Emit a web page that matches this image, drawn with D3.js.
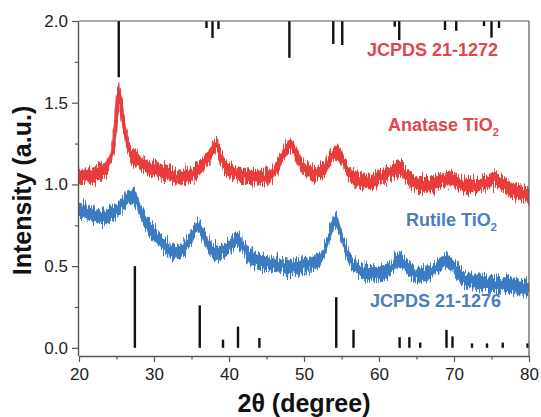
<!DOCTYPE html>
<html><head><meta charset="utf-8">
<script src="https://cdn.jsdelivr.net/npm/d3@7/dist/d3.min.js"></script>
<style>
html,body{margin:0;padding:0;background:#fff;}
svg{display:block;font-family:"Liberation Sans",Arial,sans-serif;}
</style></head>
<body><svg id="chart" width="541" height="417"></svg>
<script>
// ---- data ----
const anataseX = [20,21,22,23,23.5,24,24.5,25,25.3,25.7,26.2,27,28,29,30,32,34,35.5,36.5,37.5,38.0,38.3,38.8,39.5,41,43,45,46,47,47.8,48.1,48.8,49.5,50.5,51.5,52.5,53.5,54.2,55,56,57,58.5,60,61.5,62.7,64,65.5,67,68.5,69.5,70.5,72,73.5,75.5,77,78.5,80];
const anataseY = [1.045,1.05,1.06,1.08,1.09,1.13,1.21,1.42,1.58,1.45,1.31,1.18,1.14,1.11,1.09,1.06,1.045,1.07,1.12,1.18,1.22,1.24,1.18,1.11,1.07,1.045,1.045,1.075,1.16,1.23,1.24,1.20,1.13,1.09,1.06,1.09,1.15,1.2,1.16,1.07,1.03,1.015,1.04,1.07,1.10,1.04,1.0,1.0,1.03,1.04,1.015,0.985,1.0,1.03,0.985,0.955,0.935];
const rutileX = [20,21.5,23,24.5,25.5,26.5,27.2,28,29,30,31.5,33,34,35,35.8,36.5,37.5,38.5,39.5,40.5,41.2,42,43,44.5,46,48,50,52,53,53.7,54.2,55,56,57,58.5,60,61.5,62.7,63.5,65,66.5,68,69,70,71.5,73,75,77,78.5,80];
const rutileY = [0.843,0.825,0.80,0.825,0.86,0.92,0.93,0.86,0.76,0.70,0.62,0.585,0.61,0.68,0.74,0.70,0.61,0.58,0.60,0.64,0.66,0.61,0.55,0.52,0.51,0.495,0.505,0.54,0.63,0.74,0.78,0.68,0.555,0.49,0.455,0.455,0.49,0.54,0.51,0.445,0.455,0.51,0.53,0.49,0.415,0.405,0.395,0.385,0.375,0.37];
const noiseHalfWidth = 0.045;
// JCPDS 21-1272 (anatase) sticks hanging from the top: position, drop length
const anataseRefPos = [25.3,37.0,37.8,38.6,48.05,53.9,55.1,62.1,62.7,68.8,70.3,74.0,75.0,76.0];
const anataseRefLen = [0.344,0.043,0.104,0.049,0.225,0.141,0.147,0.035,0.117,0.055,0.06,0.031,0.102,0.043];
// JCPDS 21-1276 (rutile) sticks from zero
const rutileRefPos = [27.45,36.1,39.2,41.2,44.05,54.3,56.6,62.75,64.05,65.5,69.0,69.8,72.4,74.4,76.5,79.8];
const rutileRefVal = [0.5,0.26,0.05,0.13,0.06,0.31,0.11,0.065,0.065,0.02,0.11,0.07,0.015,0.015,0.02,0.015];
const xTicks = [20,30,40,50,60,70,80];
const xMinor = [25,35,45,55,65,75];
const yTicks = [0.0,0.5,1.0,1.5,2.0];
const yMinor = [0.25,0.75,1.25,1.75];

// ---- drawing ----
const svg = d3.select('#chart');
const L = 79, R = 529, T = 21, B = 356;
const x = d3.scaleLinear().domain([20,80]).range([L,R]);
const y = d3.scaleLinear().domain([-0.05,2.0]).range([B,T]);

const defs = svg.append('defs');
const f = defs.append('filter').attr('id','noise').attr('x','-2%').attr('y','-30%').attr('width','104%').attr('height','160%');
f.append('feTurbulence').attr('type','fractalNoise').attr('baseFrequency','1.1 0.07').attr('numOctaves',2).attr('seed',7).attr('result','t');
const ct = f.append('feComponentTransfer').attr('in','t').attr('result','t2');
ct.append('feFuncR').attr('type','linear').attr('slope',0).attr('intercept',0.5);
f.append('feDisplacementMap').attr('in','SourceGraphic').attr('in2','t2').attr('scale',18).attr('xChannelSelector','R').attr('yChannelSelector','G');

function band(xs, ys, color){
  const pts = xs.map((d,i)=>[d, ys[i]]);
  const area = d3.area().x(d=>x(d[0])).y0(d=>y(d[1]-noiseHalfWidth)).y1(d=>y(d[1]+noiseHalfWidth)).curve(d3.curveMonotoneX);
  svg.append('path').attr('d', area(pts)).attr('fill', color).attr('filter','url(#noise)');
  const line = d3.line().x(d=>x(d[0])).y(d=>y(d[1])).curve(d3.curveMonotoneX);
  svg.append('path').attr('d', line(pts)).attr('fill','none').attr('stroke',color).attr('stroke-width',4).attr('filter','url(#noise)');
}
band(anataseX, anataseY, '#e83c3a');
band(rutileX, rutileY, '#3b7bc3');

// reference sticks
svg.append('g').selectAll('line').data(anataseRefPos).join('line')
  .attr('x1',d=>x(d)).attr('x2',d=>x(d)).attr('y1',y(2.0)).attr('y2',(d,i)=>y(2.0-anataseRefLen[i]))
  .attr('stroke','#111').attr('stroke-width',2.4);
svg.append('g').selectAll('line').data(rutileRefPos).join('line')
  .attr('x1',d=>x(d)).attr('x2',d=>x(d)).attr('y1',y(0)).attr('y2',(d,i)=>y(rutileRefVal[i]) - (rutileRefVal[i] < 0.03 ? 2 : 0))
  .attr('stroke','#111').attr('stroke-width',2.4);

// frame
const axCol = '#555';
svg.append('line').attr('x1',L).attr('x2',R).attr('y1',T).attr('y2',T).attr('stroke',axCol).attr('stroke-width',1.2);
svg.append('line').attr('x1',R).attr('x2',R).attr('y1',T).attr('y2',B).attr('stroke',axCol).attr('stroke-width',1.2);

// axes
const xAxis = svg.append('g').attr('transform',`translate(0,${B})`)
  .call(d3.axisBottom(x).tickValues(xTicks).tickFormat(d3.format('d')).tickSize(6).tickPadding(6));
svg.append('g').attr('transform',`translate(0,${B})`)
  .call(d3.axisBottom(x).tickValues(xMinor).tickFormat('').tickSize(3.5))
  .call(g=>g.select('.domain').remove());
const yAxis = svg.append('g').attr('transform',`translate(${L},0)`)
  .call(d3.axisLeft(y).tickValues(yTicks).tickFormat(d3.format('.1f')).tickSize(7).tickPadding(4));
svg.append('g').attr('transform',`translate(${L},0)`)
  .call(d3.axisLeft(y).tickValues(yMinor).tickFormat('').tickSize(4))
  .call(g=>g.select('.domain').remove());
svg.selectAll('.domain').attr('stroke',axCol).attr('stroke-width',1.4);
svg.selectAll('.tick line').attr('stroke',axCol).attr('stroke-width',1.2);
svg.selectAll('.tick text').attr('font-size',17).attr('fill','#222').attr('font-family','"Liberation Sans",Arial,sans-serif');
yAxis.select('.domain').attr('d',`M-0.5,${B}V${T}`);
xAxis.select('.domain').attr('d',`M${L},0.5H${R}`);

// axis titles
svg.append('text').attr('x',(L+R)/2).attr('y',412).attr('text-anchor','middle')
  .attr('font-size',25).attr('font-weight','bold').attr('fill','#111').text('2θ (degree)');
svg.append('text').attr('transform',`translate(31,${(T+B)/2+2}) rotate(-90)`).attr('text-anchor','middle')
  .attr('font-size',25).attr('font-weight','bold').attr('fill','#111').text('Intensity (a.u.)');

// series labels
const redTxt = '#e0474b', blueTxt = '#4a7ec0';
svg.append('text').attr('x',367).attr('y',56).attr('font-size',18).attr('font-weight','bold').attr('fill',redTxt).text('JCPDS 21-1272');
const t1 = svg.append('text').attr('x',388).attr('y',131).attr('font-size',18).attr('font-weight','bold').attr('fill',redTxt);
t1.append('tspan').text('Anatase TiO');
t1.append('tspan').attr('font-size',11).attr('dy',5).text('2');
const t2 = svg.append('text').attr('x',406).attr('y',226).attr('font-size',18).attr('font-weight','bold').attr('fill',blueTxt);
t2.append('tspan').text('Rutile TiO');
t2.append('tspan').attr('font-size',11).attr('dy',5).text('2');
svg.append('text').attr('x',370).attr('y',307).attr('font-size',18).attr('font-weight','bold').attr('fill',blueTxt).text('JCPDS 21-1276');
</script></body></html>
